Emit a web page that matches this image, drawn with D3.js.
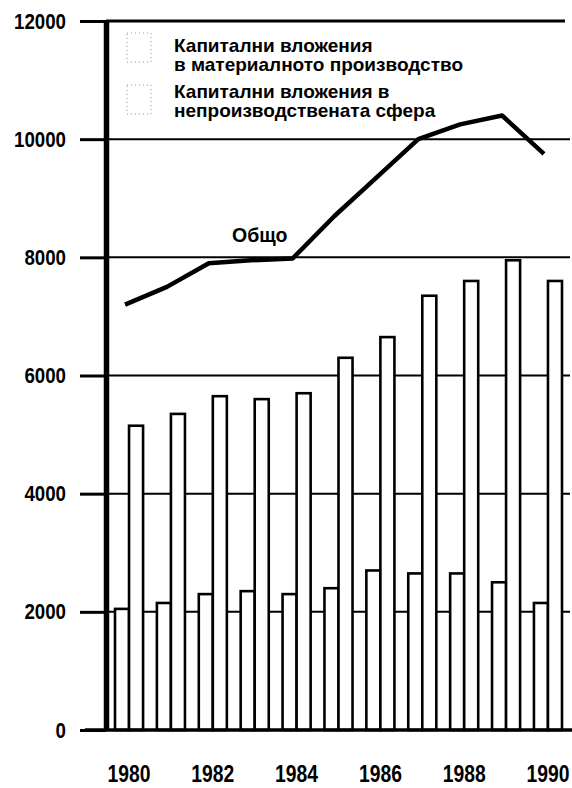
<!DOCTYPE html>
<html>
<head>
<meta charset="utf-8">
<script src="https://cdn.jsdelivr.net/npm/d3@7"></script>
<style>
  html, body { margin: 0; padding: 0; background: #fff; }
  svg text { fill: #000; }
  .tick text { font-family: "Liberation Sans", Arial, sans-serif; font-weight: bold; }
  .legend, .lineLabel { font-family: "Liberation Sans", Arial, sans-serif; font-weight: bold; }
</style>
</head>
<body>
<svg id="chart" width="572" height="788"></svg>
<script>
const years = [1980, 1981, 1982, 1983, 1984, 1985, 1986, 1987, 1988, 1989, 1990];
// капитални вложения в материалното производство
const material = [5150, 5350, 5650, 5600, 5700, 6300, 6650, 7350, 7600, 7950, 7600];
// капитални вложения в непроизводствената сфера
const nonProductive = [2050, 2150, 2300, 2350, 2300, 2400, 2700, 2650, 2650, 2500, 2150];
// общо
const total = [7200, 7500, 7900, 7950, 7980, 8700, 9350, 10000, 10250, 10400, 9750];
const yTicks = [0, 2000, 4000, 6000, 8000, 10000, 12000];
const xTickYears = [1980, 1982, 1984, 1986, 1988, 1990];
const legendLines = [
  ["Капитални вложения", "в материалното производство"],
  ["Капитални вложения в", "непроизводствената сфера"]
];
const totalLabel = "Общо";

const axisX = 106;
const rightEdge = 570;

const svg = d3.select("#chart");

const y = d3.scaleLinear().domain([0, 12000]).range([730, 21]);

const x0 = d3
  .scaleBand()
  .domain(years)
  .range([115, 562])
  .paddingInner(0.33)
  .paddingOuter(0);

const x1 = d3
  .scaleBand()
  .domain(["nonProductive", "material"])
  .range([0, x0.bandwidth()]);

// grid lines (behind the bars)
svg
  .append("g")
  .selectAll("line")
  .data(yTicks.filter((d) => d > 0))
  .enter()
  .append("line")
  .attr("x1", axisX)
  .attr("x2", (d) => (d === 12000 ? 565 : rightEdge))
  .attr("y1", (d) => y(d))
  .attr("y2", (d) => y(d))
  .attr("stroke", "#000")
  .attr("stroke-width", (d) => (d === 12000 ? 3 : 2));

// bars
const rows = years.map((yr, i) => ({
  year: yr,
  nonProductive: nonProductive[i],
  material: material[i]
}));

svg
  .append("g")
  .selectAll("g")
  .data(rows)
  .enter()
  .append("g")
  .attr("transform", (d) => `translate(${x0(d.year)},0)`)
  .selectAll("rect")
  .data((d) => ["nonProductive", "material"].map((k) => ({ key: k, value: d[k] })))
  .enter()
  .append("rect")
  .attr("x", (d) => x1(d.key))
  .attr("width", x1.bandwidth())
  .attr("y", (d) => y(d.value))
  .attr("height", (d) => y(0) - y(d.value))
  .attr("fill", "#fff")
  .attr("stroke", "#000")
  .attr("stroke-width", 2.6);

// baseline
svg
  .append("line")
  .attr("x1", 85)
  .attr("x2", rightEdge + 2)
  .attr("y1", y(0))
  .attr("y2", y(0))
  .attr("stroke", "#000")
  .attr("stroke-width", 3.5);

// total line
const line = d3
  .line()
  .x((d, i) => x0(years[i]) + x0.bandwidth() / 2 - 4)
  .y((d) => y(d));

svg
  .append("path")
  .datum(total)
  .attr("fill", "none")
  .attr("stroke", "#000")
  .attr("stroke-width", 4.5)
  .attr("stroke-linejoin", "round")
  .attr("d", line);

svg
  .append("text")
  .classed("lineLabel", true)
  .attr("x", 232)
  .attr("y", 242)
  .attr("font-size", 19.5)
  .text(totalLabel);

// y axis
const yAxis = d3
  .axisLeft(y)
  .tickValues(yTicks)
  .tickFormat((d) => d)
  .tickSize(26)
  .tickSizeOuter(0)
  .tickPadding(14);

const gy = svg
  .append("g")
  .attr("transform", `translate(${axisX},0)`)
  .call(yAxis);
gy.select(".domain").attr("stroke-width", 5.5);
gy.selectAll(".tick line").attr("stroke-width", 3);
gy.selectAll(".tick text")
  .attr("font-size", 22)
  .attr("textLength", (d) => String(d).length * 10.4)
  .attr("lengthAdjust", "spacingAndGlyphs");

// x axis (years)
const xAxis = d3
  .axisBottom(x0)
  .tickValues(xTickYears)
  .tickSize(0)
  .tickPadding(36);

const gx = svg
  .append("g")
  .attr("transform", `translate(0,${y(0)})`)
  .call(xAxis);
gx.select(".domain").remove();
gx.selectAll(".tick text")
  .attr("font-size", 23)
  .attr("textLength", 43)
  .attr("lengthAdjust", "spacingAndGlyphs");

// legend
const legend = svg.append("g").classed("legend", true);
legendLines.forEach((lines, i) => {
  legend
    .append("rect")
    .attr("x", 127)
    .attr("y", 33 + i * 52)
    .attr("width", 24)
    .attr("height", 29)
    .attr("fill", "none")
    .attr("stroke", "#999")
    .attr("stroke-width", 1)
    .attr("stroke-dasharray", "1,3");
  lines.forEach((t, j) => {
    legend
      .append("text")
      .attr("x", 174)
      .attr("y", 52 + i * 46 + j * 19)
      .attr("font-size", 19)
      .text(t);
  });
});
</script>
</body>
</html>
